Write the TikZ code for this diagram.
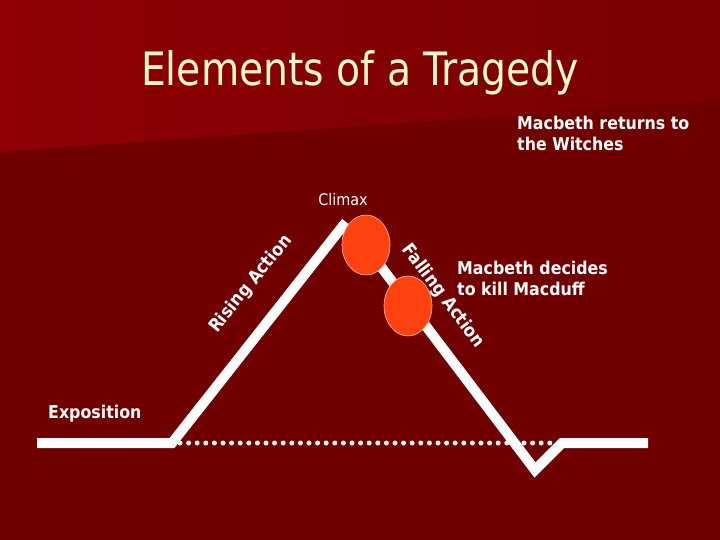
\documentclass[tikz,border=0pt]{standalone}
\usepackage{fontspec}
\setmainfont{DejaVu Sans Condensed}
\usetikzlibrary{shapes.geometric}
\definecolor{bgdark}{RGB}{112,0,0}
\definecolor{bgtop}{RGB}{142,0,4}
\definecolor{bgmid}{RGB}{120,0,0}
\definecolor{cream}{RGB}{255,248,200}
\definecolor{dotred}{RGB}{255,66,16}
\definecolor{dotedge}{RGB}{255,190,160}
\tikzset{
  plotline/.style={white, line width=10pt, line join=miter},
  dotline/.style={white, line width=5pt, line cap=round, dash pattern=on 0pt off 8.6pt},
  event/.style={ellipse, fill=dotred, draw=dotedge, line width=0.6pt, minimum width=48pt, minimum height=60pt, inner sep=0pt},
  lbl/.style={text=white, font=\bfseries\fontsize{17.6}{21}\selectfont, align=left, inner sep=0pt},
  slanted/.style={text=white, font=\bfseries\fontsize{18}{22}\selectfont, inner sep=0pt}
}
\begin{document}
\begin{tikzpicture}[x=1pt, y=-1pt]
\useasboundingbox (0,0) rectangle (720,540);
\fill[bgdark] (0,0) rectangle (720,540);
\shade[left color=bgtop, right color=bgmid] (0,0) -- (720,0) -- (720,100) -- (0,152) -- cycle;

\node[text=cream, font=\fontsize{46}{52}\selectfont, anchor=base, inner sep=0pt] (title) at (360,86) {\scalebox{0.95}[1]{Elements of a Tragedy}};

% plot line
\coordinate (a0) at (37,443);
\coordinate (a1) at (172,443);
\coordinate (apex) at (346,222);
\coordinate (vb) at (535,470);
\coordinate (vr) at (562,443);
\coordinate (a2) at (648,443);
\draw[dotline] (180,443) -- (556,443);
\draw[plotline] (a0) -- (a1) -- (apex);
\draw[plotline] (366,247) -- (vb) -- (vr) -- (a2);

\node[event] (climax) at (366,245) {};
\node[event] (decide) at (408,306) {};

\node[lbl, anchor=base west] (ret) at (517,151) {Macbeth returns to\\the Witches};
\node[lbl, anchor=base west] (dec) at (457,295) {Macbeth decides\\to kill Macduff};
\node[text=white, font=\fontsize{16}{20}\selectfont, anchor=base, inner sep=0pt] (clim) at (343,206) {Climax};
\node[lbl, anchor=base west] (expo) at (48,418) {Exposition};

\node[slanted, rotate=51] (rise) at (251,284) {Rising Action};
\node[slanted, rotate=-53] (fall) at (443,296) {Falling Action};
\end{tikzpicture}
\end{document}
